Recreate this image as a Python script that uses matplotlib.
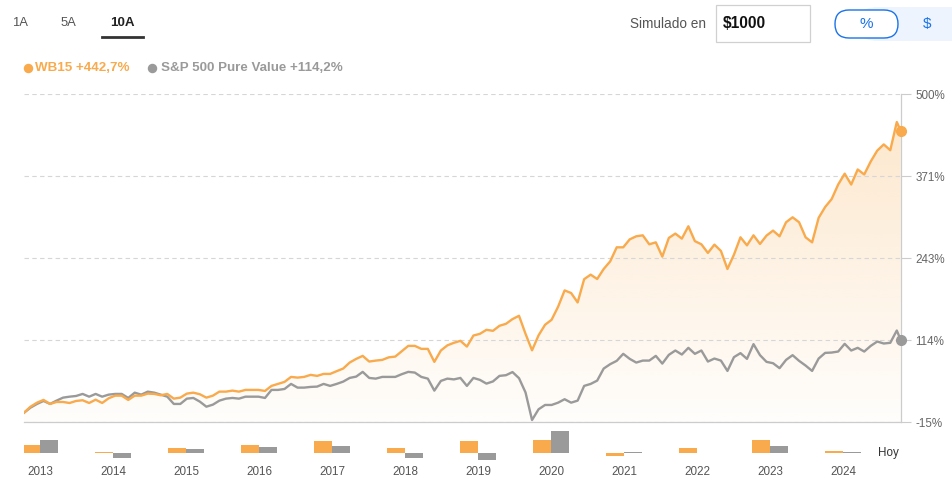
import numpy as np
import matplotlib.pyplot as plt
from matplotlib.patches import Polygon, FancyBboxPatch, Rectangle
from matplotlib.lines import Line2D
from matplotlib.colors import to_rgb

plt.rcParams['font.family'] = ['Liberation Sans', 'DejaVu Sans']

# cumulative return (%) of each series, one point per period, last one = today
wb15 = [0, 9.5, 15.8, 20.1, 13.8, 16.9, 16.9, 15.3, 18.5, 19.6,
        15.3, 20.5, 15.3, 22.7, 26.8, 26.8, 20.1, 26.8, 26.8, 30.0,
        29.5, 27.4, 29.5, 22.1, 23.7, 30.0, 31.5, 29.0, 23.7, 26.8,
        33.1, 33.1, 34.7, 33.1, 35.8, 35.8, 35.8, 34.2, 42.1, 45.2,
        48.4, 56.2, 55.1, 56.2, 59.4, 57.8, 60.9, 60.9, 65.2, 69.3,
        78.7, 84.5, 89.2, 80.3, 81.8, 82.9, 86.9, 88.1, 96.6, 104.9,
        104.9, 100.2, 100.2, 79.8, 97.6, 105.7, 109.7, 112.8, 103.8, 121.1,
        123.8, 130.1, 128.5, 136.4, 139.5, 146.9, 152.1, 123.8, 97.9, 121.4,
        138.0, 145.8, 166.3, 191.9, 187.8, 173.0, 209.5, 216.6, 209.8, 225.5,
        237.5, 259.5, 259.5, 272.0, 276.8, 278.3, 264.2, 267.3, 244.9, 274.2,
        281.0, 273.1, 292.5, 269.2, 264.2, 250.7, 263.7, 253.8, 225.5, 248.0,
        275.2, 262.6, 278.3, 264.8, 277.9, 285.7, 276.8, 298.8, 306.6, 298.8,
        275.2, 267.3, 305.7, 322.7, 335.2, 358.0, 375.0, 358.0, 381.6, 373.8,
        394.2, 411.2, 420.9, 411.8, 456.0, 442.7]
sp500 = [0, 8.0, 13.8, 18.5, 13.8, 19.0, 23.7, 25.2, 26.3, 29.5,
         25.2, 29.5, 25.2, 28.4, 29.5, 29.5, 23.2, 31.5, 28.4, 33.1,
         31.5, 28.4, 25.2, 13.8, 13.8, 22.1, 23.2, 17.4, 9.5, 12.7,
         19.0, 22.1, 23.2, 22.1, 25.2, 25.2, 25.2, 23.2, 35.8, 35.8,
         37.3, 45.2, 39.4, 39.4, 40.5, 41.0, 45.2, 42.1, 45.2, 48.8,
         54.6, 56.7, 64.1, 54.6, 53.5, 56.2, 56.2, 56.2, 60.5, 64.1,
         63.0, 56.2, 53.5, 34.7, 49.9, 53.5, 52.3, 54.6, 42.1, 54.6,
         51.5, 45.7, 49.1, 57.8, 58.9, 63.8, 54.2, 31.8, -11.4, 5.4,
         12.2, 12.2, 15.8, 21.2, 15.8, 19.0, 42.1, 45.2, 50.4, 69.3,
         76.2, 81.4, 92.4, 84.5, 78.7, 81.8, 81.8, 89.2, 77.1, 90.8,
         97.6, 91.3, 101.8, 92.4, 97.6, 80.3, 85.0, 81.8, 65.6, 87.2,
         93.5, 84.5, 107.6, 90.3, 79.8, 77.7, 69.9, 82.9, 90.3, 81.4,
         74.0, 65.6, 85.0, 93.9, 94.4, 96.0, 108.1, 97.6, 101.8, 96.0,
         104.9, 111.7, 108.6, 109.7, 129.0, 114.2]

y_ticks = [-15, 113.75, 242.5, 371.25, 500]
y_labels = ['-15%', '114%', '243%', '371%', '500%']

# yearly returns (%) for the small bars under the chart
years = ['2013', '2014', '2015', '2016', '2017', '2018',
         '2019', '2020', '2021', '2022', '2023', '2024']
wb15_yearly = [24, 2.5, 15, 24, 36, 15, 36, 39, -9, 15, 39, 6]
sp500_yearly = [39, -15, 12, 18, 21, -15, -21, 66, 2.5, 0, 21, 2.5]

ORANGE = '#f8aa4c'
GRAY = '#9a9a9a'
BLUE = '#1a73e8'

W, H = 953, 498
fig = plt.figure(figsize=(W / 100, H / 100), dpi=100)


def fx(px):
    return px / W


def fy(py):
    return 1 - py / H


# ---- main line chart
ax = fig.add_axes([fx(24), fy(422.3), fx(900.7) - fx(24), fy(94) - fy(422.3)])
t = np.arange(len(wb15), dtype=float)
t[-1] = t[-2] + 0.6

grad = np.zeros((256, 1, 4))
grad[..., :3] = to_rgb(ORANGE)
grad[:, 0, 3] = np.linspace(0.02, 0.3, 256)
im = ax.imshow(grad, extent=[t[0], t[-1], -15, 500], origin='lower',
               aspect='auto', zorder=1, interpolation='bilinear')
poly = Polygon(np.column_stack([np.r_[t[0], t, t[-1]], np.r_[-15, wb15, -15]]),
               closed=True, fc='none', ec='none')
ax.add_patch(poly)
im.set_clip_path(poly)

ax.plot(t, sp500, color=GRAY, lw=1.7, zorder=3)
ax.plot(t, wb15, color=ORANGE, lw=1.7, zorder=4)
ax.plot(t[-1], sp500[-1], 'o', ms=7, color=GRAY, zorder=5, clip_on=False)
ax.plot(t[-1], wb15[-1], 'o', ms=7, color=ORANGE, zorder=5, clip_on=False)

ax.set_xlim(t[0], t[-1])
ax.set_ylim(-15, 500)
ax.set_xticks([])
ax.yaxis.tick_right()
ax.set_yticks(y_ticks, y_labels)
ax.grid(axis='y', ls=(0, (4, 3)), color='#d6d6d6', lw=0.8)
ax.tick_params(axis='y', length=7, width=0.8, color='#cccccc', pad=3.5,
               labelsize=8.4, labelcolor='#666666')
for s in ['left', 'top']:
    ax.spines[s].set_visible(False)
for s in ['right', 'bottom']:
    ax.spines[s].set_color('#cccccc')
    ax.spines[s].set_linewidth(0.9)

# ---- yearly bars
bx = fig.add_axes([fx(24), fy(462), fx(900.7) - fx(24), fy(428) - fy(462)])
k = np.arange(len(years))
bx.bar(k - 0.12, wb15_yearly, width=0.24, color=ORANGE)
bx.bar(k + 0.12, sp500_yearly, width=0.24, color=GRAY)
bx.set_xlim(-16 / 73, (900.7 - 40) / 73)
bx.set_ylim(-27, 75)
bx.set_xticks(k, years)
bx.set_yticks([])
bx.tick_params(axis='x', length=0, pad=3, labelsize=8.4, labelcolor='#555555')
for s in bx.spines.values():
    s.set_visible(False)
bx.patch.set_visible(False)
bx.text(len(years) - 0.38, 0, 'Hoy', ha='center', va='center', fontsize=8.4, color='#333333')

# ---- header controls
fig.text(fx(12), fy(23), '1A', fontsize=9.4, color='#555555', va='center')
fig.text(fx(61), fy(23), '5A', fontsize=9.4, color='#555555', va='center')
fig.text(fx(110), fy(23), '10A', fontsize=9.6, color='#222222', va='center', fontweight='bold')
fig.add_artist(Line2D([fx(102), fx(143)], [fy(37.5), fy(37.5)], color='#333333', lw=2,
                      transform=fig.transFigure))

fig.text(fx(706), fy(24), 'Simulado en', fontsize=9.8, color='#555555', va='center', ha='right')
fig.add_artist(Rectangle((fx(716), fy(42)), fx(810) - fx(716), fy(5) - fy(42),
                         transform=fig.transFigure, fc='white', ec='#d0d0d0', lw=0.9))
fig.text(fx(723), fy(24), '$1000', fontsize=11.2, color='#111111', va='center', fontweight='bold')

fig.add_artist(FancyBboxPatch((fx(850), fy(41)), fx(990) - fx(850), fy(7) - fy(41),
                              boxstyle='round,pad=0,rounding_size=0.03',
                              mutation_aspect=H / W * 0 + 1.9,
                              transform=fig.transFigure, fc='#eef4fd', ec='none'))
fig.add_artist(FancyBboxPatch((fx(835), fy(38)), fx(898) - fx(835), fy(10) - fy(38),
                              boxstyle='round,pad=0,rounding_size=0.0147',
                              mutation_aspect=1.9,
                              transform=fig.transFigure, fc='white', ec=BLUE, lw=1))
fig.text(fx(866.5), fy(24), '%', fontsize=11, color=BLUE, va='center', ha='center')
fig.text(fx(927), fy(24), '$', fontsize=11, color=BLUE, va='center', ha='center')

# ---- legend
fig.add_artist(Line2D([fx(28)], [fy(68)], marker='o', ms=5.8, color=ORANGE, transform=fig.transFigure))
fig.text(fx(35), fy(68), 'WB15 +442,7%', fontsize=9.6, color=ORANGE, va='center', fontweight='bold')
fig.add_artist(Line2D([fx(152)], [fy(68)], marker='o', ms=5.8, color=GRAY, transform=fig.transFigure))
fig.text(fx(161), fy(68), 'S&P 500 Pure Value +114,2%', fontsize=9.6, color=GRAY, va='center',
         fontweight='bold')

fig.savefig('out.png', dpi=100)
